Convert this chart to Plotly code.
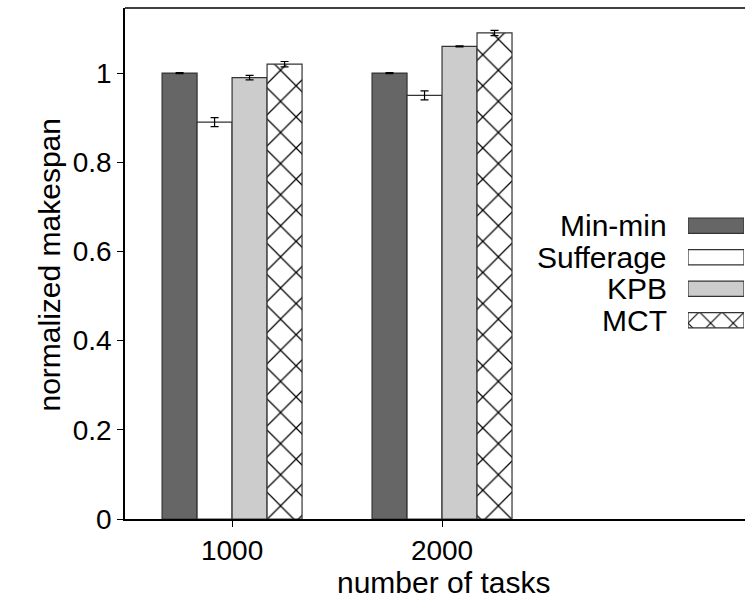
import plotly.graph_objects as go

categories = ["1000", "2000"]
series_names = ["Min-min", "Sufferage", "KPB", "MCT"]
minmin = [1.0, 1.0]
sufferage = [0.89, 0.95]
kpb = [0.99, 1.06]
mct = [1.02, 1.09]
err_minmin = [0.001, 0.001]
err_sufferage = [0.01, 0.01]
err_kpb = [0.005, 0.001]
err_mct = [0.006, 0.006]
y_ticks = [0, 0.2, 0.4, 0.6, 0.8, 1]
y_tick_labels = ["0", "0.2", "0.4", "0.6", "0.8", "1"]

values = [minmin, sufferage, kpb, mct]
errors = [err_minmin, err_sufferage, err_kpb, err_mct]
fills = ["#666666", "#ffffff", "#cccccc", "#ffffff"]
patterns = [None, None, None, dict(shape="x", fgcolor="#000000", bgcolor="#ffffff",
                                   size=22, solidity=0.11, fgopacity=1)]

FONT = "Liberation Sans, Arial, Helvetica, sans-serif"
W, H = 745, 598
L, T, B, R = 125, 8, 79, 0
PW, PH = W - L - R, H - T - B

def px_x(p):
    return (p - L) / PW

def px_y(p):
    return (H - B - p) / PH

fig = go.Figure()
for name, vals, errs, fc, pat in zip(series_names, values, errors, fills, patterns):
    marker = dict(color=fc, line=dict(color="#333333", width=1.2))
    if pat:
        marker["pattern"] = pat
    fig.add_trace(go.Bar(
        x=categories, y=vals, name=name, marker=marker,
        error_y=dict(type="data", array=errs, color="#000000", thickness=1.2, width=4),
        showlegend=False, xaxis="x", yaxis="y",
    ))

# custom legend: sample bars on an overlay axis, labels to their left
for i, (name, fc, pat) in enumerate(zip(series_names, fills, patterns)):
    marker = dict(color=fc, line=dict(color="#333333", width=1.2))
    if pat:
        marker["pattern"] = dict(pat, size=16, solidity=0.13)
    fig.add_trace(go.Bar(
        x=[1], y=[i], orientation="h", width=0.48, marker=marker,
        showlegend=False, xaxis="x2", yaxis="y2", hoverinfo="skip",
    ))
    fig.add_annotation(
        x=px_x(669), y=i, xref="paper", yref="y2", text=name, showarrow=False,
        xanchor="right", yanchor="middle", font=dict(family=FONT, size=30, color="#000000"),
    )

# axis titles
fig.add_annotation(x=px_x(443), y=px_y(582), xref="paper", yref="paper", yanchor="middle",
                   text="number of tasks", showarrow=False,
                   font=dict(family=FONT, size=30, color="#000000"))
fig.add_annotation(x=px_x(30), y=px_y(265), xref="paper", yref="paper", textangle=-90,
                   text="normalized makespan", showarrow=False,
                   font=dict(family=FONT, size=30, color="#000000"))

# top border of plot frame
fig.add_shape(type="line", xref="paper", yref="paper", x0=0, x1=1, y0=1, y1=1,
              line=dict(color="#000000", width=1.5))

fig.update_layout(
    width=W, height=H,
    margin=dict(l=L, r=R, t=T, b=B),
    paper_bgcolor="#ffffff", plot_bgcolor="#ffffff",
    barmode="group", bargap=1/3, bargroupgap=0,
    font=dict(family=FONT, size=28, color="#000000"),
    xaxis=dict(type="category", range=[-0.51, 2.443], showgrid=False, zeroline=False,
               showline=True, linecolor="#000000", linewidth=1.5,
               ticks="outside", ticklen=6, tickcolor="#000000", tickwidth=1,
               tickfont=dict(family=FONT, size=28, color="#000000")),
    yaxis=dict(range=[0, 1.146], tickvals=y_ticks, ticktext=y_tick_labels,
               showgrid=False, zeroline=False, showline=True, linecolor="#000000", linewidth=1.5,
               ticks="outside", ticklen=6, tickcolor="#000000", tickwidth=1,
               tickfont=dict(family=FONT, size=28, color="#000000")),
    xaxis2=dict(domain=[px_x(688), px_x(744)], range=[0, 1], visible=False, anchor="y2"),
    yaxis2=dict(domain=[px_y(336), px_y(210)], range=[3.5, -0.5], visible=False, anchor="x2"),
)

fig.write_html(
    "out.html",
    config={"displayModeBar": False},
    post_script="document.body.style.margin='0';document.body.style.overflow='hidden';",
)
